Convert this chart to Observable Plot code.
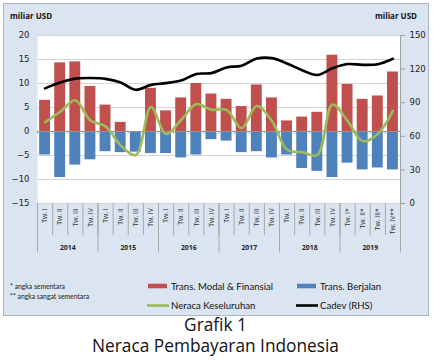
<!DOCTYPE html>
<html>
<head>
<meta charset="utf-8">
<script src="https://cdn.jsdelivr.net/npm/d3@7"></script>
<script src="https://cdn.jsdelivr.net/npm/@observablehq/plot@0.6"></script>
<style>
  body { margin: 0; width: 433px; height: 360px; background: #ffffff; position: relative; overflow: hidden; }
  #panel { position: absolute; left: 3px; top: 3px; width: 424px; height: 311px; background: #dbe5f1; border: 1px solid #a9b7c9; }
  #chart { position: absolute; left: 0; top: 0; }
  #overlay { position: absolute; left: 0; top: 0; }
  #caption { position: absolute; left: 0; width: 431px; top: 314px; text-align: center; font-family: "Open Sans", sans-serif; font-size: 17.3px; line-height: 21px; color: #111; }
</style>
</head>
<body>
<div id="panel"></div>
<div id="chart"></div>
<svg id="overlay" width="433" height="360"></svg>
<div id="caption">Grafik 1<br>Neraca Pembayaran Indonesia</div>
<script>
const years = ["2014", "2015", "2016", "2017", "2018", "2019"];
const quarterLabels = [
  "Tw. I", "Tw. II", "Tw. III", "Tw. IV",
  "Tw. I", "Tw. II", "Tw. III", "Tw. IV",
  "Tw. I", "Tw. II", "Tw. III", "Tw. IV",
  "Tw. I", "Tw. II", "Tw. III", "Tw. IV",
  "Tw. I", "Tw. II", "Tw. III", "Tw. IV",
  "Tw. I*", "Tw. II*", "Tw. III*", "Tw. IV**"
];
// Trans. Modal & Finansial (miliar USD, left axis)
const modal = [6.5, 14.3, 14.5, 9.4, 5.5, 1.9, 0.0, 9.0, 4.3, 7.0, 10.0, 7.8,
               6.7, 5.2, 9.7, 7.0, 2.2, 3.0, 4.0, 15.9, 9.8, 6.7, 7.4, 12.4];
// Trans. Berjalan (left axis)
const berjalan = [-4.9, -9.6, -7.0, -5.9, -4.2, -4.4, -4.3, -4.6, -4.6, -5.5, -4.9, -1.7,
                  -2.0, -4.4, -4.2, -5.5, -4.9, -7.7, -8.3, -9.6, -6.6, -8.0, -7.6, -8.0];
// Neraca Keseluruhan (left axis)
const neraca = [1.9, 4.1, 6.5, 2.3, 1.1, -2.9, -4.9, 5.1, -0.5, 2.4, 5.7, 4.5,
                4.5, 0.7, 5.3, 2.2, -3.8, -4.3, -4.9, 5.6, 2.2, -2.0, -0.5, 4.3];
// Cadev (RHS)
const cadev = [102.8, 108.0, 111.5, 112.0, 111.3, 108.0, 101.5, 105.9, 107.5, 109.8, 115.7, 116.4,
               121.5, 123.0, 129.4, 129.8, 125.0, 119.0, 114.8, 120.7, 124.5, 123.8, 124.3, 129.2];
const leftTicks = [-15, -10, -5, 0, 5, 10, 15, 20];
const rightTicks = [0, 30, 60, 90, 120, 150];

const LMIN = -15, LMAX = 20, RMAX = 150;
const toLeft = v => LMIN + v * (LMAX - LMIN) / RMAX;
const fromLeft = d => Math.round((d - LMIN) * RMAX / (LMAX - LMIN));

const data = modal.map((v, i) => ({
  i, label: quarterLabels[i], modal: v, berjalan: berjalan[i],
  neraca: neraca[i], cadev: toLeft(cadev[i])
}));
const yearData = years.map((y, k) => ({ year: y, mid: k * 4 + 2 }));
const boundaries = d3.range(0, 25);
const yearBounds = d3.range(0, 25, 4);
const gap = 0.14;

const chart = Plot.plot({
  width: 433,
  height: 316,
  marginTop: 35,
  marginBottom: 113,
  marginLeft: 37,
  marginRight: 33,
  x: { domain: [0, 24], axis: null },
  y: { domain: [LMIN, LMAX], axis: null },
  style: { background: "transparent", fontFamily: "DejaVu Sans, sans-serif", color: "#222" },
  marks: [
    Plot.frame({ fill: "white", stroke: null }),
    Plot.ruleY(leftTicks.filter(d => d !== 0), { stroke: "#d4d4d4", strokeWidth: 1 }),
    Plot.rectY(data, { x1: d => d.i + gap, x2: d => d.i + 1 - gap, y: "modal", fill: "#c0504d" }),
    Plot.rectY(data, { x1: d => d.i + gap, x2: d => d.i + 1 - gap, y: "berjalan", fill: "#4f81bd" }),
    Plot.ruleY([0], { stroke: "#9a8f8f", strokeWidth: 1 }),
    Plot.ruleX(boundaries, { y1: 0, y2: -0.5, stroke: "#9a9a9a" }),
    Plot.line(data, { x: d => d.i + 0.5, y: "neraca", stroke: "#9bbb59", strokeWidth: 2.6, curve: "catmull-rom" }),
    Plot.line(data, { x: d => d.i + 0.5, y: "cadev", stroke: "#000000", strokeWidth: 2.6, curve: "catmull-rom" }),
    Plot.axisY(leftTicks, { anchor: "left", tickSize: 0, tickPadding: 8, fontSize: 8.5, fill: "#222" }),
    Plot.ruleX([24], { y1: LMIN, y2: LMAX, stroke: "#a0a0a0" }),
    Plot.axisY(rightTicks.map(toLeft), { anchor: "right", tickFormat: fromLeft, tickSize: 4, tickPadding: 5, fontSize: 8.5, stroke: "#a0a0a0", fill: "#222" }),
    Plot.ruleX(boundaries, { y1: LMIN, y2: -21.7, stroke: "#a8a8a8" }),
    Plot.ruleX(yearBounds, { y1: LMIN, y2: -25.3, stroke: "#a8a8a8" }),
    Plot.text(data, { x: d => d.i + 0.5, y: -16, text: "label", rotate: -90, textAnchor: "end", fontSize: 6.8, fontFamily: "Open Sans, sans-serif", fill: "#333" }),
    Plot.text(yearData, { x: "mid", y: -24.3, text: "year", fontSize: 6.8, fontWeight: "bold", fontFamily: "Open Sans, sans-serif", fill: "#222" })
  ]
});
document.getElementById("chart").appendChild(chart);

// legend & notes
const ov = d3.select("#overlay");
const legFont = "Lato, sans-serif";
ov.append("text").attr("x", 10).attr("y", 18.5).attr("font-family", "Open Sans, sans-serif").attr("font-weight", "bold").attr("font-size", 8).attr("fill", "#111").text("miliar USD");
ov.append("text").attr("x", 417).attr("y", 18.5).attr("text-anchor", "end").attr("font-family", "Open Sans, sans-serif").attr("font-weight", "bold").attr("font-size", 8).attr("fill", "#111").text("miliar USD");

const legend = [
  { label: "Trans. Modal & Finansial", color: "#c0504d", type: "rect", x: 148, y: 286 },
  { label: "Trans. Berjalan", color: "#4f81bd", type: "rect", x: 297, y: 286 },
  { label: "Neraca Keseluruhan", color: "#9bbb59", type: "line", x: 147, y: 305.5 },
  { label: "Cadev (RHS)", color: "#000000", type: "line", x: 296, y: 305.5 }
];
for (const l of legend) {
  if (l.type === "rect") {
    ov.append("rect").attr("x", l.x).attr("y", l.y - 2.3).attr("width", 19).attr("height", 4.6).attr("fill", l.color);
    ov.append("text").attr("x", l.x + 23).attr("y", l.y + 3.6).attr("font-family", legFont).attr("font-size", 9.6).attr("fill", "#111").text(l.label);
  } else {
    ov.append("line").attr("x1", l.x).attr("x2", l.x + 22).attr("y1", l.y).attr("y2", l.y).attr("stroke", l.color).attr("stroke-width", 2.6);
    ov.append("text").attr("x", l.x + 24).attr("y", l.y + 3.6).attr("font-family", legFont).attr("font-size", 9.6).attr("fill", "#111").text(l.label);
  }
}
ov.append("text").attr("x", 10).attr("y", 288.5).attr("font-family", legFont).attr("font-size", 6.8).attr("fill", "#222").text("* angka sementara");
ov.append("text").attr("x", 10).attr("y", 298.5).attr("font-family", legFont).attr("font-size", 6.8).attr("fill", "#222").text("** angka sangat sementara");
</script>
</body>
</html>
